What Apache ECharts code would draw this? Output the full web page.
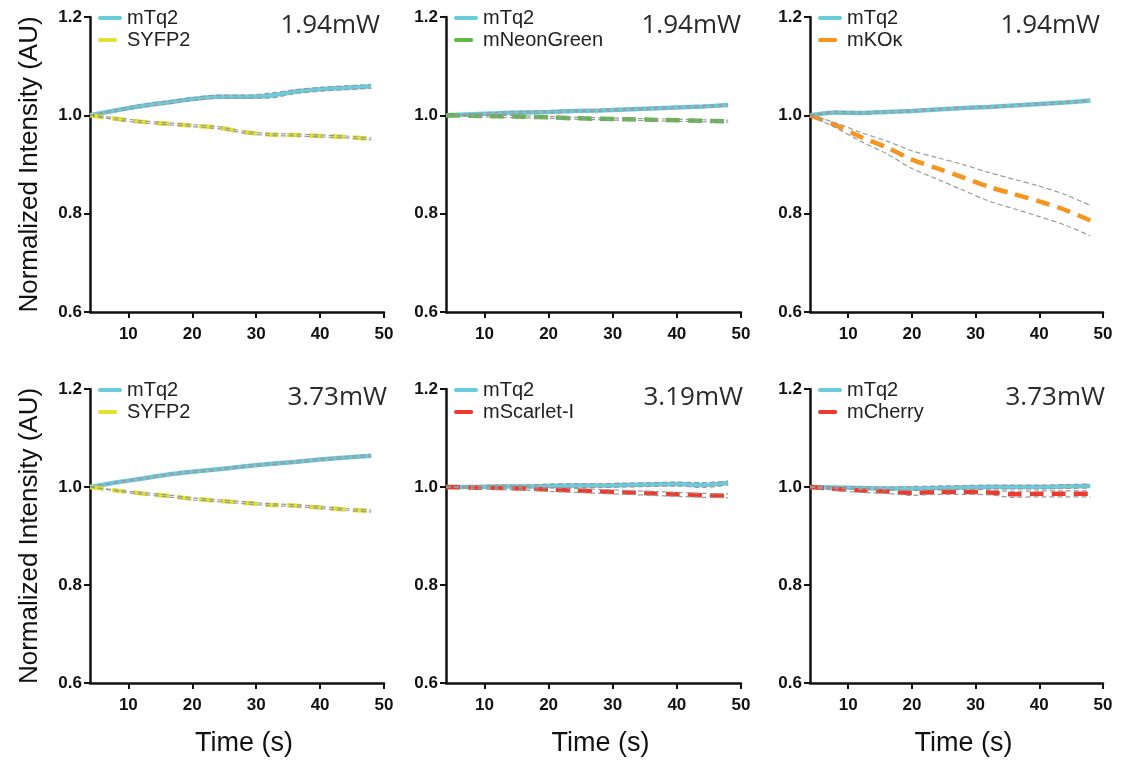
<!DOCTYPE html>
<html>
<head>
<meta charset="utf-8">
<script src="https://cdn.jsdelivr.net/npm/echarts@6/dist/echarts.min.js"></script>
<style>
html,body{margin:0;padding:0;background:#fff;}
#chart{width:1122px;height:760px;}
</style>
</head>
<body>
<div id="chart"></div>
<script>
// ---------- data ----------
const times = [4, 8, 12, 16, 20, 24, 28, 32, 36, 40, 44, 48];
const xTickLabels = [10, 20, 30, 40, 50];
const yTickLabels = [0.6, 0.8, 1.0, 1.2];

const powers = ['1.94mW', '1.94mW', '1.94mW', '3.73mW', '3.19mW', '3.73mW'];
const partnerNames = ['SYFP2', 'mNeonGreen', 'mKOκ', 'SYFP2', 'mScarlet-I', 'mCherry'];
const partnerColors = ['#E3E32E', '#5DB846', '#F7941D', '#E3E32E', '#EE3A2C', '#EE3A2C'];

// panel 1 : 1.94mW, mTq2 vs SYFP2
const mTq2_p1      = [1.000, 1.010, 1.019, 1.026, 1.033, 1.038, 1.038, 1.040, 1.048, 1.053, 1.056, 1.059];
const mTq2Err_p1   = [0.000, 0.002, 0.003, 0.003, 0.003, 0.003, 0.003, 0.005, 0.004, 0.004, 0.004, 0.004];
const partner_p1   = [1.000, 0.993, 0.987, 0.983, 0.979, 0.975, 0.966, 0.961, 0.960, 0.958, 0.956, 0.952];
const partnerErr_p1= [0.000, 0.002, 0.002, 0.002, 0.002, 0.002, 0.002, 0.002, 0.002, 0.002, 0.002, 0.002];

// panel 2 : 1.94mW, mTq2 vs mNeonGreen
const mTq2_p2      = [1.000, 1.002, 1.004, 1.006, 1.007, 1.009, 1.010, 1.012, 1.014, 1.016, 1.018, 1.021];
const mTq2Err_p2   = [0.000, 0.001, 0.002, 0.002, 0.002, 0.002, 0.002, 0.002, 0.002, 0.002, 0.002, 0.002];
const partner_p2   = [1.000, 0.999, 0.998, 0.997, 0.996, 0.994, 0.993, 0.992, 0.991, 0.990, 0.989, 0.988];
const partnerErr_p2= [0.000, 0.001, 0.002, 0.002, 0.002, 0.002, 0.002, 0.002, 0.002, 0.002, 0.002, 0.002];

// panel 3 : 1.94mW, mTq2 vs mKOκ
const mTq2_p3      = [1.000, 1.006, 1.005, 1.007, 1.009, 1.012, 1.015, 1.017, 1.020, 1.023, 1.026, 1.030];
const mTq2Err_p3   = [0.000, 0.002, 0.002, 0.002, 0.002, 0.002, 0.002, 0.002, 0.002, 0.002, 0.002, 0.002];
const partner_p3   = [1.000, 0.980, 0.956, 0.935, 0.910, 0.892, 0.874, 0.855, 0.840, 0.825, 0.808, 0.786];
const partnerErr_p3= [0.000, 0.005, 0.009, 0.013, 0.018, 0.022, 0.026, 0.029, 0.030, 0.031, 0.031, 0.031];

// panel 4 : 3.73mW, mTq2 vs SYFP2
const mTq2_p4      = [1.000, 1.009, 1.017, 1.025, 1.031, 1.036, 1.042, 1.047, 1.051, 1.056, 1.060, 1.064];
const mTq2Err_p4   = [0.000, 0.001, 0.002, 0.002, 0.002, 0.002, 0.002, 0.002, 0.002, 0.002, 0.002, 0.002];
const partner_p4   = [1.000, 0.993, 0.987, 0.982, 0.976, 0.972, 0.968, 0.964, 0.962, 0.958, 0.954, 0.951];
const partnerErr_p4= [0.000, 0.001, 0.002, 0.002, 0.002, 0.002, 0.002, 0.002, 0.002, 0.002, 0.002, 0.002];

// panel 5 : 3.19mW, mTq2 vs mScarlet-I
const mTq2_p5      = [1.000, 1.000, 1.001, 1.001, 1.002, 1.003, 1.003, 1.004, 1.005, 1.006, 1.004, 1.008];
const mTq2Err_p5   = [0.000, 0.002, 0.003, 0.003, 0.004, 0.004, 0.004, 0.004, 0.004, 0.004, 0.005, 0.004];
const partner_p5   = [1.000, 0.999, 0.998, 0.997, 0.995, 0.993, 0.991, 0.989, 0.987, 0.985, 0.983, 0.982];
const partnerErr_p5= [0.000, 0.002, 0.003, 0.003, 0.004, 0.004, 0.004, 0.004, 0.004, 0.004, 0.004, 0.004];

// panel 6 : 3.73mW, mTq2 vs mCherry
const mTq2_p6      = [1.000, 0.999, 0.998, 0.997, 0.997, 0.998, 0.999, 1.000, 1.000, 1.000, 1.001, 1.002];
const mTq2Err_p6   = [0.000, 0.002, 0.003, 0.003, 0.004, 0.004, 0.004, 0.004, 0.004, 0.004, 0.004, 0.004];
const partner_p6   = [1.000, 0.996, 0.993, 0.991, 0.988, 0.990, 0.990, 0.989, 0.985, 0.986, 0.986, 0.986];
const partnerErr_p6= [0.000, 0.003, 0.004, 0.004, 0.005, 0.005, 0.005, 0.005, 0.006, 0.006, 0.006, 0.006];

const mTq2All = [mTq2_p1, mTq2_p2, mTq2_p3, mTq2_p4, mTq2_p5, mTq2_p6];
const mTq2ErrAll = [mTq2Err_p1, mTq2Err_p2, mTq2Err_p3, mTq2Err_p4, mTq2Err_p5, mTq2Err_p6];
const partnerAll = [partner_p1, partner_p2, partner_p3, partner_p4, partner_p5, partner_p6];
const partnerErrAll = [partnerErr_p1, partnerErr_p2, partnerErr_p3, partnerErr_p4, partnerErr_p5, partnerErr_p6];

// ---------- layout ----------
const FONT = '"Liberation Sans", Arial, sans-serif';
const colLeft = [90, 446, 810];
const colWidth = [294, 295, 293];
const rowTop = [17, 389];
const rowHeight = [295, 294];
const titleRightShift = [4, 0, 3, -3, -2, -2];
const CYAN = '#6ACBDD';
const BAND = '#9a9a9a';
const ICON_SOLID = 'path://M2,0h20a2,2 0 0 1 0,4h-20a2,2 0 0 1 0,-4z';
const ICON_DASH = 'path://M1,0h16a1,1 0 0 1 0,4h-16a1,1 0 0 1 0,-4z M23.9,1.95h0.1v0.1h-0.1z';

const grids = [], xAxes = [], yAxes = [], series = [], legends = [], titles = [];
const pair = (vals) => times.map((t, i) => [t, vals[i]]);

for (let p = 0; p < 6; p++) {
  const r = Math.floor(p / 3), c = p % 3;
  grids.push({left: colLeft[c], top: rowTop[r], width: colWidth[c], height: rowHeight[r], containLabel: false});
  xAxes.push({
    type: 'value', gridIndex: p, min: 4, max: 50,
    axisLine: {show: true, onZero: false, lineStyle: {color: '#111', width: 2.5}},
    axisTick: {show: true, length: 6, inside: false, lineStyle: {color: '#111', width: 2}, customValues: xTickLabels},
    axisLabel: {customValues: xTickLabels, margin: 14, color: '#111', fontSize: 17, fontWeight: 'bold', fontFamily: FONT},
    splitLine: {show: false},
    name: r === 1 ? 'Time (s)' : '',
    nameLocation: 'middle', nameGap: 47,
    nameTextStyle: {fontSize: 27, color: '#111', fontFamily: FONT, padding: [0, 0, 0, 14]}
  });
  yAxes.push({
    type: 'value', gridIndex: p, min: 0.6, max: 1.2, interval: 0.2,
    axisLine: {show: true, onZero: false, lineStyle: {color: '#111', width: 2.5}},
    axisTick: {show: true, length: 6, inside: false, lineStyle: {color: '#111', width: 2}},
    axisLabel: {margin: 8, color: '#111', fontSize: 17, fontWeight: 'bold', fontFamily: FONT,
      formatter: v => yTickLabels.find(t => Math.abs(t - v) < 1e-6).toFixed(1)},
    splitLine: {show: false},
    name: c === 0 ? 'Normalized Intensity (AU)' : '',
    nameLocation: 'middle', nameGap: 47,
    nameTextStyle: {fontSize: 26, color: '#111', fontFamily: FONT}
  });

  const pc = partnerColors[p];
  series.push({
    type: 'line', name: 'mTq2', xAxisIndex: p, yAxisIndex: p, data: pair(mTq2All[p]),
    symbol: 'none', smooth: 0.3, z: 3,
    lineStyle: {color: CYAN, width: 4.5}, itemStyle: {color: CYAN}
  });
  series.push({
    type: 'line', name: partnerNames[p], xAxisIndex: p, yAxisIndex: p, data: pair(partnerAll[p]),
    symbol: 'none', smooth: 0.3, z: 3,
    lineStyle: {color: pc, width: 4.5, type: [14, 8]}, itemStyle: {color: pc}
  });
  // error band lines (mean ± err)
  const bands = [
    mTq2All[p].map((v, i) => v + mTq2ErrAll[p][i]),
    mTq2All[p].map((v, i) => v - mTq2ErrAll[p][i]),
    partnerAll[p].map((v, i) => v + partnerErrAll[p][i]),
    partnerAll[p].map((v, i) => v - partnerErrAll[p][i])
  ];
  bands.forEach(b => series.push({
    type: 'line', name: 'band', xAxisIndex: p, yAxisIndex: p, data: pair(b),
    symbol: 'none', smooth: 0.3, z: 4, silent: true,
    lineStyle: {color: BAND, width: 1.2, type: [5, 3]}
  }));

  legends.push({
    data: [{name: 'mTq2', icon: ICON_SOLID}, {name: partnerNames[p], icon: ICON_DASH}],
    orient: 'vertical', padding: 0,
    left: colLeft[c] + 8, top: rowTop[r] - 9,
    itemWidth: 24, itemHeight: 4, itemGap: 2,
    textStyle: {fontSize: 20, color: '#222', fontFamily: FONT}, selectedMode: false
  });
  titles.push({
    text: powers[p], right: 1122 - (colLeft[c] + colWidth[c]) + titleRightShift[p], top: rowTop[r] - 4, padding: 0,
    textStyle: {fontSize: 26, fontWeight: 'normal', color: '#2a2a2a', fontFamily: '"Open Sans", sans-serif'}
  });
}

const chart = echarts.init(document.getElementById('chart'), null, {renderer: 'canvas'});
chart.setOption({
  animation: false,
  backgroundColor: '#fff',
  title: titles,
  legend: legends,
  grid: grids,
  xAxis: xAxes,
  yAxis: yAxes,
  series: series
});
</script>
</body>
</html>
